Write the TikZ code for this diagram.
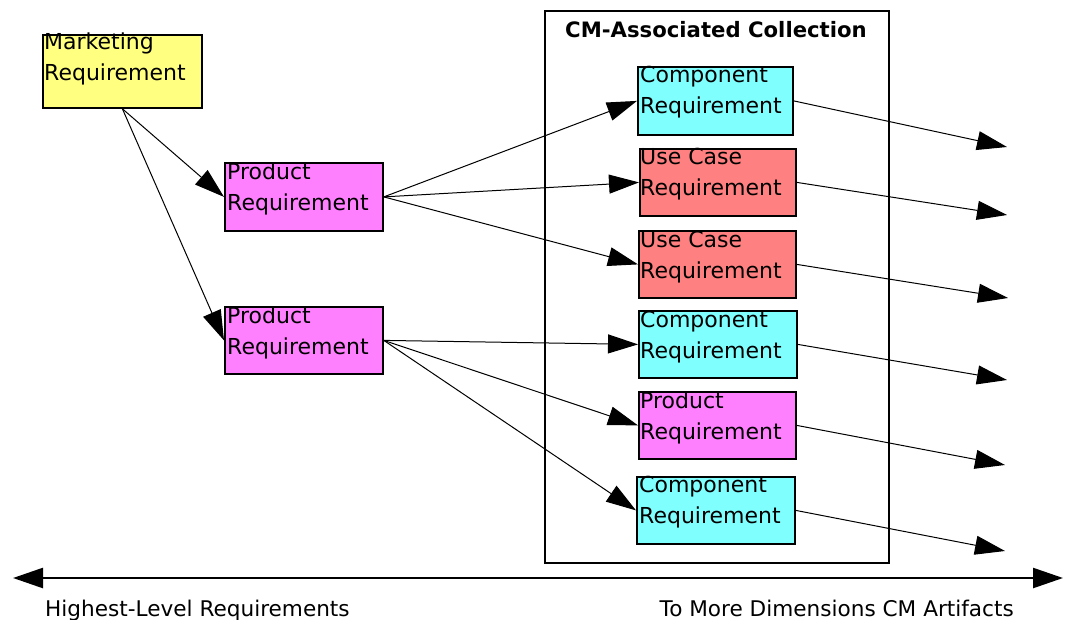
\documentclass[tikz,border=0pt]{standalone}
\usepackage{fontspec}
\setmainfont{DejaVu Sans}
\usetikzlibrary{arrows.meta,calc}
\definecolor{cyanbox}{HTML}{80FFFF}
\definecolor{redbox}{HTML}{FF8080}
\definecolor{magbox}{HTML}{FF80FF}
\definecolor{yelbox}{HTML}{FFFF80}
\tikzset{
  box/.style={draw=black, line width=1.8pt, anchor=north west, inner sep=0pt},
  boxtext/.style={anchor=north west, inner sep=0pt, align=left,
    font=\fontsize{22}{31}\selectfont},
  conn/.style={line width=1pt, -{Triangle[length=30pt,width=19pt]}},
  axis/.style={line width=2.4pt, {Triangle[length=30pt,width=20pt]}-{Triangle[length=30pt,width=20pt]}},
  foot/.style={inner sep=0pt, font=\fontsize{21.6}{25}\selectfont},
}
\begin{document}
\begin{tikzpicture}[x=1pt,y=-1pt]
\useasboundingbox (0,0) rectangle (1067,620);
% frame
\node[draw=black, line width=1.8pt, anchor=north west, inner sep=0pt,
  minimum width=344pt, minimum height=552pt] (frame) at (544,10) {};
\node[inner sep=0pt, font=\bfseries\fontsize{21.2}{24}\selectfont, anchor=base] (title) at (716,38) {CM-Associated Collection};
% boxes
\node[box, fill=yelbox, minimum width=159pt, minimum height=73pt] (mk) at (42,34) {};
\node[boxtext] (mkt) at (44,33) {Marketing\\Requirement};
\node[box, fill=magbox, minimum width=158pt, minimum height=68pt] (p1) at (224,162) {};
\node[boxtext] (p1t) at (227,163) {Product\\Requirement};
\node[box, fill=magbox, minimum width=158pt, minimum height=67pt] (p2) at (224,306) {};
\node[boxtext] (p2t) at (227,307) {Product\\Requirement};
\node[box, fill=cyanbox, minimum width=155pt, minimum height=68pt] (c1) at (637,66) {};
\node[boxtext] (c1t) at (640,66) {Component\\Requirement};
\node[box, fill=redbox, minimum width=156pt, minimum height=67pt] (u1) at (639,148) {};
\node[boxtext] (u1t) at (640,148) {Use Case\\Requirement};
\node[box, fill=redbox, minimum width=157pt, minimum height=67pt] (u2) at (638,230) {};
\node[boxtext] (u2t) at (640,231) {Use Case\\Requirement};
\node[box, fill=cyanbox, minimum width=158pt, minimum height=67pt] (c2) at (638,310) {};
\node[boxtext] (c2t) at (640,311) {Component\\Requirement};
\node[box, fill=magbox, minimum width=157pt, minimum height=67pt] (p3) at (638,391) {};
\node[boxtext] (p3t) at (640,392) {Product\\Requirement};
\node[box, fill=cyanbox, minimum width=158pt, minimum height=67pt] (c3) at (636,476) {};
\node[boxtext] (c3t) at (639,476) {Component\\Requirement};
% end coordinates
\coordinate (e1) at (1007,147);
\coordinate (e2) at (1007,215);
\coordinate (e3) at (1008,298);
\coordinate (e4) at (1007,380);
\coordinate (e5) at (1005,465);
\coordinate (e6) at (1005,551);
\coordinate (axL) at (13,578);
\coordinate (axR) at (1063,578);
% connectors
\draw[conn] (mk.south) -- (p1.west);
\draw[conn] (mk.south) -- (p2.west);
\draw[conn] (p1.east) -- (c1.west);
\draw[conn] (p1.east) -- (u1.west);
\draw[conn] (p1.east) -- (u2.west);
\draw[conn] (p2.east) -- (c2.west);
\draw[conn] (p2.east) -- (p3.west);
\draw[conn] (p2.east) -- (c3.west);
\draw[conn] (c1.east) -- (e1);
\draw[conn] (u1.east) -- (e2);
\draw[conn] (u2.east) -- (e3);
\draw[conn] (c2.east) -- (e4);
\draw[conn] (p3.east) -- (e5);
\draw[conn] (c3.east) -- (e6);
\draw[axis] (axL) -- (axR);
\node[foot, anchor=base west] (lft) at (45,616) {Highest-Level Requirements};
\node[foot, anchor=base east] (rgt) at (1014,616) {To More Dimensions CM Artifacts};
\end{tikzpicture}
\end{document}
